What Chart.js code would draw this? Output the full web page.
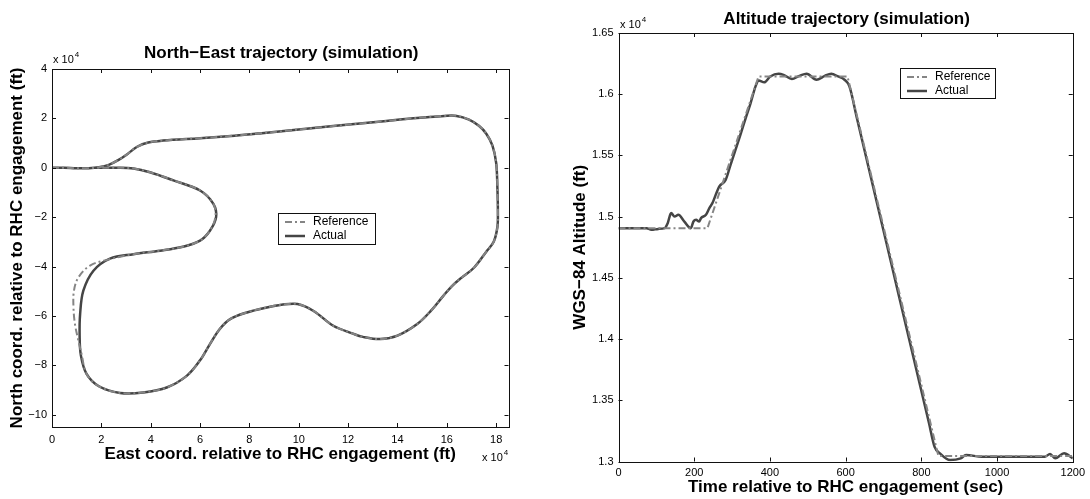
<!DOCTYPE html>
<html>
<head>
<meta charset="utf-8">
<script src="https://cdn.jsdelivr.net/npm/chart.js@4.4.1/dist/chart.umd.min.js"></script>
<style>
  body { margin: 0; background: #fff; }
  #wrap { position: relative; width: 1090px; height: 499px; }
  canvas { position: absolute; top: 0; }
</style>
</head>
<body>
<div id="wrap">
  <canvas id="neChart" width="540" height="499" style="left:0"></canvas>
  <canvas id="altChart" width="550" height="499" style="left:540px"></canvas>
</div>
<script>
// North-East trajectory, values in x 10^4 ft
const eastActual = [0, 0.5, 1.0, 1.5, 1.9, 2.3, 2.7, 3.05, 3.45, 3.9, 4.5, 6.0, 7.4, 8.5, 9.5, 10.5, 11.5, 12.8, 14.1, 15.2,
  15.9, 16.4, 16.9, 17.3, 17.6, 17.85, 18.0, 18.05, 18.07, 18.05, 17.9, 17.6, 17.1, 16.6, 16.2, 15.85, 15.35, 14.8, 14.0, 13.3,
  12.6, 12.2, 11.4, 10.6, 9.95, 9.3, 8.7, 7.9, 7.22, 6.8, 6.4, 6.0, 5.46, 4.65, 3.7, 2.76, 1.9, 1.4, 1.17, 1.12,
  1.14, 1.27, 1.68, 2.35, 3.3, 4.38, 5.3, 6.0, 6.4, 6.65, 6.54, 6.0, 4.92, 3.97, 3.3, 2.6, 1.8];
const northActual = [0, 0, -0.02, -0.02, 0.02, 0.12, 0.32, 0.55, 0.85, 1.02, 1.1, 1.2, 1.3, 1.4, 1.5, 1.6, 1.7, 1.82, 1.95, 2.05,
  2.1, 2.1, 1.95, 1.7, 1.38, 0.9, 0.2, -0.8, -1.8, -2.4, -3.0, -3.4, -4.05, -4.45, -4.8, -5.2, -5.8, -6.33, -6.8, -6.94,
  -6.85, -6.72, -6.4, -5.8, -5.52, -5.55, -5.66, -5.86, -6.13, -6.53, -7.14, -7.8, -8.43, -8.9, -9.1, -9.12, -8.85, -8.35, -7.6, -6.8,
  -5.92, -4.98, -4.17, -3.68, -3.5, -3.36, -3.2, -2.95, -2.55, -2.0, -1.46, -0.92, -0.51, -0.18, -0.03, 0, 0];
const eastRef = [0, 0.5, 1.0, 1.5, 1.9, 2.3, 2.7, 3.05, 3.45, 3.9, 4.5, 6.0, 7.4, 8.5, 9.5, 10.5, 11.5, 12.8, 14.1, 15.2,
  15.9, 16.4, 16.9, 17.3, 17.6, 17.85, 18.0, 18.05, 18.07, 18.05, 17.9, 17.6, 17.1, 16.6, 16.2, 15.85, 15.35, 14.8, 14.0, 13.3,
  12.6, 12.2, 11.4, 10.6, 9.95, 9.3, 8.7, 7.9, 7.22, 6.8, 6.4, 6.0, 5.46, 4.65, 3.7, 2.76, 1.9, 1.4, 1.2, 1.07,
  0.93, 0.87, 0.89, 1.07, 1.54, 2.28, 3.3, 4.38, 5.3, 6.0, 6.4, 6.62, 6.54, 6.0, 4.92, 3.97, 3.3, 2.6, 1.8];
const northRef = [0, 0, -0.02, -0.02, 0.02, 0.12, 0.32, 0.55, 0.85, 1.02, 1.1, 1.2, 1.3, 1.4, 1.5, 1.6, 1.7, 1.82, 1.95, 2.05,
  2.1, 2.1, 1.95, 1.7, 1.38, 0.9, 0.2, -0.8, -1.8, -2.4, -3.0, -3.4, -4.05, -4.45, -4.8, -5.2, -5.8, -6.33, -6.8, -6.94,
  -6.85, -6.72, -6.4, -5.8, -5.52, -5.55, -5.66, -5.86, -6.13, -6.53, -7.14, -7.8, -8.43, -8.9, -9.1, -9.12, -8.85, -8.35, -7.55, -7.0,
  -6.33, -5.65, -4.98, -4.44, -3.96, -3.72, -3.5, -3.36, -3.2, -2.95, -2.55, -2.0, -1.46, -0.92, -0.51, -0.18, -0.03, 0, 0];

// Altitude trajectory, altitude in x 10^4 ft
const timeActual = [0, 40, 74, 87, 105, 122, 130, 139, 148, 158, 174, 191, 198, 205, 213, 218, 231, 240, 248, 266,
  283, 296, 309, 322, 336, 349, 362, 370, 385, 401, 423, 436, 458, 478, 497, 523, 545, 562, 580, 597,
  610, 630, 660, 700, 740, 780, 820, 835, 849, 876, 904, 918, 960, 1050, 1126, 1140, 1154, 1177, 1200];
const altActual = [1.4906, 1.4906, 1.4906, 1.4892, 1.4900, 1.4906, 1.4947, 1.5029, 1.5001, 1.5015, 1.4960, 1.4906, 1.4960, 1.4974, 1.4960, 1.4988, 1.5015, 1.5070, 1.5110, 1.5246,
  1.5300, 1.5423, 1.5546, 1.5669, 1.5805, 1.5928, 1.6064, 1.6113, 1.6097, 1.6145, 1.6167, 1.6158, 1.6124, 1.6150, 1.6167, 1.6118, 1.6150, 1.6167, 1.6145, 1.6118,
  1.6064, 1.5802, 1.5410, 1.4887, 1.4363, 1.3840, 1.3316, 1.3120, 1.3067, 1.3012, 1.3026, 1.3053, 1.3039, 1.3039, 1.3039, 1.3061, 1.3026, 1.3067, 1.3026];
const timeRef = [0, 235, 370, 605, 845, 1200];
const altRef = [1.4906, 1.4906, 1.6145, 1.6145, 1.3045, 1.3045];

const seriesNames = ['Reference', 'Actual'];

const FONT = "'Liberation Sans', Arial, Helvetica, sans-serif";
Chart.defaults.font.family = FONT;
Chart.defaults.color = '#000';

const toPoints = (xs, ys) => xs.map((x, i) => ({x: x, y: ys[i]}));
const minus = v => String(v).replace('-', '\u2212');

// box with inward ticks, title, exponent labels and legend, drawn the MATLAB way
const matlabFrame = {
  id: 'matlabFrame',
  afterDatasetsDraw(chart, args, opts) {
    const {ctx, chartArea: a, scales} = chart;
    ctx.save();
    ctx.strokeStyle = '#111';
    ctx.lineWidth = 1;
    ctx.strokeRect(Math.round(a.left) + 0.5, Math.round(a.top) + 0.5, Math.round(a.right - a.left), Math.round(a.bottom - a.top));
    ctx.beginPath();
    scales.x.ticks.forEach(t => {
      const px = Math.round(scales.x.getPixelForValue(t.value)) + 0.5;
      ctx.moveTo(px, a.bottom); ctx.lineTo(px, a.bottom - 4);
      ctx.moveTo(px, a.top); ctx.lineTo(px, a.top + 4);
    });
    scales.y.ticks.forEach(t => {
      const py = Math.round(scales.y.getPixelForValue(t.value)) + 0.5;
      ctx.moveTo(a.left, py); ctx.lineTo(a.left + 4, py);
      ctx.moveTo(a.right, py); ctx.lineTo(a.right - 4, py);
    });
    ctx.stroke();

    // title
    ctx.fillStyle = '#000';
    ctx.font = 'bold 17px ' + FONT;
    ctx.textAlign = 'center';
    ctx.textBaseline = 'middle';
    ctx.fillText(opts.title, (a.left + a.right) / 2 + 1, opts.titleY);

    // x 10^4 labels
    ctx.textAlign = 'left';
    opts.exps.forEach(e => {
      ctx.font = '11px ' + FONT;
      ctx.fillText('x 10', e.x, e.y);
      const w = ctx.measureText('x 10').width;
      ctx.font = '8px ' + FONT;
      ctx.fillText('4', e.x + w + 1, e.y - 5);
    });

    // legend
    const L = opts.legend;
    ctx.fillStyle = '#fff';
    ctx.fillRect(L.x, L.y, L.w, L.h);
    ctx.strokeStyle = '#111';
    ctx.strokeRect(L.x + 0.5, L.y + 0.5, L.w, L.h);
    chart.data.datasets.forEach((ds, i) => {
      const yy = L.y + 9 + i * 14;
      ctx.save();
      ctx.strokeStyle = ds.borderColor;
      ctx.lineWidth = ds.borderWidth;
      ctx.setLineDash(ds.borderDash || []);
      ctx.beginPath();
      ctx.moveTo(L.x + 7, yy);
      ctx.lineTo(L.x + 27, yy);
      ctx.stroke();
      ctx.restore();
      ctx.fillStyle = '#000';
      ctx.font = '12px ' + FONT;
      ctx.textBaseline = 'middle';
      ctx.fillText(ds.label, L.x + 35, yy);
    });
    ctx.restore();
  }
};

const refStyle = {borderColor: '#858585', borderWidth: 2, borderDash: [7, 3, 2, 3], pointRadius: 0, showLine: true, fill: false};
const actStyle = {borderColor: '#454545', borderWidth: 2.5, pointRadius: 0, showLine: true, fill: false};

const tickFont = {size: 11};
const axisTitleFont = {size: 17, weight: 'bold', lineHeight: 1.2};

// left chart
new Chart(document.getElementById('neChart'), {
  type: 'scatter',
  data: {
    datasets: [
      Object.assign({label: seriesNames[0], data: toPoints(eastRef, northRef), tension: 0.35}, refStyle),
      Object.assign({label: seriesNames[1], data: toPoints(eastActual, northActual), tension: 0.35}, actStyle)
    ]
  },
  options: {
    responsive: false,
    animation: false,
    devicePixelRatio: 1,
    layout: {padding: {left: 0, top: 69, right: 31.5, bottom: 0}},
    scales: {
      x: {
        type: 'linear', min: 0, max: 18.5,
        grid: {display: false, drawTicks: false},
        border: {display: false},
        ticks: {stepSize: 2, includeBounds: false, padding: 6, font: tickFont, maxRotation: 0, autoSkip: false, callback: minus},
        title: {display: true, text: 'East coord. relative to RHC engagement (ft)', font: axisTitleFont, padding: {top: 0, bottom: 34}},
        afterFit: s => { s.height = 72; }
      },
      y: {
        type: 'linear', min: -10.5, max: 4,
        grid: {display: false, drawTicks: false},
        border: {display: false},
        ticks: {stepSize: 2, includeBounds: false, padding: 5, font: tickFont, autoSkip: false, callback: minus},
        title: {display: true, text: 'North coord. relative to RHC engagement (ft)', font: axisTitleFont, padding: {top: 7, bottom: 0}},
        afterFit: s => { s.width = 52; }
      }
    },
    plugins: {
      legend: {display: false},
      tooltip: {enabled: false},
      matlabFrame: {
        title: 'North\u2212East trajectory (simulation)',
        titleY: 53,
        exps: [{x: 53, y: 60}, {x: 482, y: 458}],
        legend: {x: 278, y: 213, w: 97, h: 31}
      }
    }
  },
  plugins: [matlabFrame]
});

// right chart
new Chart(document.getElementById('altChart'), {
  type: 'scatter',
  data: {
    datasets: [
      Object.assign({label: seriesNames[0], data: toPoints(timeRef, altRef), tension: 0}, refStyle),
      Object.assign({label: seriesNames[1], data: toPoints(timeActual, altActual), cubicInterpolationMode: 'monotone'}, actStyle)
    ]
  },
  options: {
    responsive: false,
    animation: false,
    devicePixelRatio: 1,
    layout: {padding: {left: 0, top: 33, right: 13, bottom: 0}},
    scales: {
      x: {
        type: 'linear', min: 0, max: 1200,
        grid: {display: false, drawTicks: false},
        border: {display: false},
        ticks: {stepSize: 200, includeBounds: false, padding: 5, font: tickFont, maxRotation: 0, autoSkip: false, callback: v => String(v)},
        title: {display: true, text: 'Time relative to RHC engagement (sec)', font: axisTitleFont, padding: {top: 0, bottom: 1}},
        afterFit: s => { s.height = 37.5; }
      },
      y: {
        type: 'linear', min: 1.3, max: 1.65,
        grid: {display: false, drawTicks: false},
        border: {display: false},
        ticks: {stepSize: 0.05, includeBounds: false, padding: 5, font: tickFont, autoSkip: false, callback: v => String(+v.toFixed(2))},
        title: {display: true, text: 'WGS\u221284 Altitude (ft)', font: axisTitleFont, padding: {top: 30, bottom: 0}},
        afterFit: s => { s.width = 78.5; }
      }
    },
    plugins: {
      legend: {display: false},
      tooltip: {enabled: false},
      matlabFrame: {
        title: 'Altitude trajectory (simulation)',
        titleY: 19,
        exps: [{x: 80, y: 25}],
        legend: {x: 360, y: 68, w: 95, h: 30}
      }
    }
  },
  plugins: [matlabFrame]
});
</script>
</body>
</html>
